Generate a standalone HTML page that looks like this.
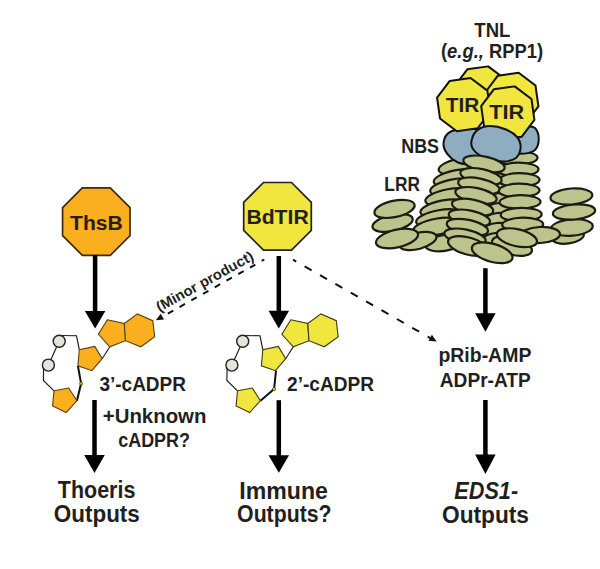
<!DOCTYPE html><html><head><meta charset="utf-8"><style>html,body{margin:0;padding:0;background:#fff;}svg{display:block;}text{font-family:"Liberation Sans",sans-serif;font-weight:bold;fill:#231f20;stroke:#fff;stroke-width:0.7px;paint-order:stroke;}</style></head><body>
<svg width="600" height="569" viewBox="0 0 600 569">
<text x="474.30" y="36.8" font-size="21" textLength="36.10" lengthAdjust="spacingAndGlyphs"  style="">TNL</text>
<text x="441" y="58.4" font-size="21" textLength="102" lengthAdjust="spacingAndGlyphs">(<tspan font-style="italic">e.g.,</tspan> RPP1)</text>
<polygon points="467.34,69.31 488.19,66.38 504.99,79.04 507.92,99.89 495.26,116.69 474.41,119.62 457.61,106.96 454.68,86.11" fill="#F0E63E" stroke="#111" stroke-width="2" stroke-linejoin="round"/>
<polygon points="497.84,75.71 518.69,72.78 535.49,85.44 538.42,106.29 525.76,123.09 504.91,126.02 488.11,113.36 485.18,92.51" fill="#F0E63E" stroke="#111" stroke-width="2" stroke-linejoin="round"/>
<ellipse cx="462.3" cy="166" rx="24" ry="8" transform="rotate(-10 462.3 166)" fill="#BCC48E" stroke="#1c1c10" stroke-width="2.2"/>
<ellipse cx="457.4" cy="178" rx="24" ry="8" transform="rotate(-10 457.4 178)" fill="#BCC48E" stroke="#1c1c10" stroke-width="2.2"/>
<ellipse cx="453.9" cy="187.2" rx="24" ry="8" transform="rotate(-10 453.9 187.2)" fill="#BCC48E" stroke="#1c1c10" stroke-width="2.2"/>
<ellipse cx="449" cy="197.1" rx="24" ry="8" transform="rotate(-10 449 197.1)" fill="#BCC48E" stroke="#1c1c10" stroke-width="2.2"/>
<ellipse cx="444.1" cy="208.3" rx="24" ry="8" transform="rotate(-10 444.1 208.3)" fill="#BCC48E" stroke="#1c1c10" stroke-width="2.2"/>
<ellipse cx="439.8" cy="218.1" rx="24" ry="8" transform="rotate(-10 439.8 218.1)" fill="#BCC48E" stroke="#1c1c10" stroke-width="2.2"/>
<ellipse cx="437" cy="226.6" rx="24" ry="8" transform="rotate(-10 437 226.6)" fill="#BCC48E" stroke="#1c1c10" stroke-width="2.2"/>
<ellipse cx="444" cy="243" rx="19" ry="8" transform="rotate(-8 444 243)" fill="#BCC48E" stroke="#1c1c10" stroke-width="2.2"/>
<ellipse cx="418" cy="241" rx="19" ry="8" transform="rotate(-15 418 241)" fill="#BCC48E" stroke="#1c1c10" stroke-width="2.2"/>
<ellipse cx="392.6" cy="223" rx="20.5" ry="8" transform="rotate(-12 392.6 223)" fill="#BCC48E" stroke="#1c1c10" stroke-width="2.2"/>
<ellipse cx="394.5" cy="208.9" rx="20.5" ry="8.2" transform="rotate(-12 394.5 208.9)" fill="#BCC48E" stroke="#1c1c10" stroke-width="2.2"/>
<ellipse cx="397" cy="238.5" rx="21.5" ry="8.8" transform="rotate(-12.8 397 238.5)" fill="#BCC48E" stroke="#1c1c10" stroke-width="2.2"/>
<ellipse cx="503" cy="170" rx="14" ry="7" transform="rotate(-5 503 170)" fill="#BCC48E" stroke="#1c1c10" stroke-width="2.2"/>
<ellipse cx="502" cy="180" rx="14" ry="7" transform="rotate(-5 502 180)" fill="#BCC48E" stroke="#1c1c10" stroke-width="2.2"/>
<ellipse cx="501" cy="190" rx="14" ry="7" transform="rotate(-5 501 190)" fill="#BCC48E" stroke="#1c1c10" stroke-width="2.2"/>
<ellipse cx="500" cy="200" rx="14" ry="7" transform="rotate(-5 500 200)" fill="#BCC48E" stroke="#1c1c10" stroke-width="2.2"/>
<ellipse cx="499" cy="210" rx="14" ry="7" transform="rotate(-5 499 210)" fill="#BCC48E" stroke="#1c1c10" stroke-width="2.2"/>
<ellipse cx="498" cy="220" rx="14" ry="7" transform="rotate(-5 498 220)" fill="#BCC48E" stroke="#1c1c10" stroke-width="2.2"/>
<ellipse cx="497" cy="230" rx="14" ry="7" transform="rotate(-5 497 230)" fill="#BCC48E" stroke="#1c1c10" stroke-width="2.2"/>
<ellipse cx="496" cy="240" rx="14" ry="7" transform="rotate(-5 496 240)" fill="#BCC48E" stroke="#1c1c10" stroke-width="2.2"/>
<ellipse cx="517" cy="158" rx="20.5" ry="6.8" transform="rotate(-1 517 158)" fill="#BCC48E" stroke="#1c1c10" stroke-width="2.2"/>
<ellipse cx="518" cy="169.5" rx="20.5" ry="6.8" transform="rotate(-1 518 169.5)" fill="#BCC48E" stroke="#1c1c10" stroke-width="2.2"/>
<ellipse cx="519" cy="180" rx="20.5" ry="6.8" transform="rotate(-1 519 180)" fill="#BCC48E" stroke="#1c1c10" stroke-width="2.2"/>
<ellipse cx="519" cy="190.5" rx="20.5" ry="6.8" transform="rotate(-1 519 190.5)" fill="#BCC48E" stroke="#1c1c10" stroke-width="2.2"/>
<ellipse cx="520" cy="202" rx="20.5" ry="6.8" transform="rotate(-1 520 202)" fill="#BCC48E" stroke="#1c1c10" stroke-width="2.2"/>
<ellipse cx="521.2" cy="214.6" rx="20.5" ry="6.8" transform="rotate(-1 521.2 214.6)" fill="#BCC48E" stroke="#1c1c10" stroke-width="2.2"/>
<ellipse cx="522.7" cy="224.5" rx="20.5" ry="6.8" transform="rotate(-1 522.7 224.5)" fill="#BCC48E" stroke="#1c1c10" stroke-width="2.2"/>
<path d="M452,131 C462,127 476,127 484,133 L482,163 C474,165 463,165 457,162 C449,158 443,150 443.5,143 C444,137 447,133 452,131 Z" fill="#8FADC0" stroke="#111" stroke-width="2"/>
<path d="M512,134 C518,127 530,124 535,128 C540,133 540,145 535,150 C530,154 520,155 512,152 Z" fill="#8FADC0" stroke="#111" stroke-width="2"/>
<polygon points="449.74,80.91 470.59,77.98 487.39,90.64 490.32,111.49 477.66,128.29 456.81,131.22 440.01,118.56 437.08,97.71" fill="#F0E63E" stroke="#111" stroke-width="2" stroke-linejoin="round"/>
<polygon points="493.84,89.31 514.69,86.38 531.49,99.04 534.42,119.89 521.76,136.69 500.91,139.62 484.11,126.96 481.18,106.11" fill="#F0E63E" stroke="#111" stroke-width="2" stroke-linejoin="round"/>
<text x="445.70" y="112" font-size="21" textLength="33.60" lengthAdjust="spacingAndGlyphs"  style="stroke:#F0E63E">TIR</text>
<text x="489.20" y="119" font-size="21" textLength="34.90" lengthAdjust="spacingAndGlyphs"  style="stroke:#F0E63E">TIR</text>
<path d="M472,139 C474,130 482,126 490,126 C500,126 512,131 517,137 C522,143 522,152 516,158 C510,162 500,162 492,160 C484,158 476,154 473,149 C471,146 471,142 472,139 Z" fill="#8FADC0" stroke="#111" stroke-width="2"/>
<text x="401.20" y="153.2" font-size="21" textLength="37.90" lengthAdjust="spacingAndGlyphs"  style="">NBS</text>
<text x="384.30" y="191.1" font-size="21" textLength="35.60" lengthAdjust="spacingAndGlyphs"  style="">LRR</text>
<ellipse cx="484" cy="164" rx="21" ry="7.5" transform="rotate(11.5 484 164)" fill="#BCC48E" stroke="#1c1c10" stroke-width="2.2"/>
<ellipse cx="481" cy="176.5" rx="21" ry="7.5" transform="rotate(11.5 481 176.5)" fill="#BCC48E" stroke="#1c1c10" stroke-width="2.2"/>
<ellipse cx="478.8" cy="185.9" rx="21" ry="7.5" transform="rotate(11.5 478.8 185.9)" fill="#BCC48E" stroke="#1c1c10" stroke-width="2.2"/>
<ellipse cx="476" cy="195.5" rx="21" ry="7.5" transform="rotate(11.5 476 195.5)" fill="#BCC48E" stroke="#1c1c10" stroke-width="2.2"/>
<ellipse cx="472.6" cy="207.2" rx="21" ry="7.5" transform="rotate(11.5 472.6 207.2)" fill="#BCC48E" stroke="#1c1c10" stroke-width="2.2"/>
<ellipse cx="469.4" cy="218" rx="21" ry="7.5" transform="rotate(11.5 469.4 218)" fill="#BCC48E" stroke="#1c1c10" stroke-width="2.2"/>
<ellipse cx="467.4" cy="227.3" rx="21" ry="7.5" transform="rotate(11.5 467.4 227.3)" fill="#BCC48E" stroke="#1c1c10" stroke-width="2.2"/>
<ellipse cx="465" cy="237" rx="21" ry="7.5" transform="rotate(11.5 465 237)" fill="#BCC48E" stroke="#1c1c10" stroke-width="2.2"/>
<ellipse cx="468" cy="246" rx="20.5" ry="8.5" transform="rotate(15 468 246)" fill="#BCC48E" stroke="#1c1c10" stroke-width="2.2"/>
<ellipse cx="512" cy="246" rx="20.5" ry="8.5" transform="rotate(15 512 246)" fill="#BCC48E" stroke="#1c1c10" stroke-width="2.2"/>
<ellipse cx="568" cy="236.5" rx="16" ry="7" transform="rotate(-8 568 236.5)" fill="#BCC48E" stroke="#1c1c10" stroke-width="2.2"/>
<ellipse cx="571.8" cy="227.5" rx="21" ry="8.2" transform="rotate(-4.5 571.8 227.5)" fill="#BCC48E" stroke="#1c1c10" stroke-width="2.2"/>
<ellipse cx="574" cy="212" rx="21.2" ry="7.5" transform="rotate(-5 574 212)" fill="#BCC48E" stroke="#1c1c10" stroke-width="2.2"/>
<ellipse cx="571.4" cy="196.5" rx="21" ry="8" transform="rotate(-4.5 571.4 196.5)" fill="#BCC48E" stroke="#1c1c10" stroke-width="2.2"/>
<ellipse cx="540" cy="235" rx="20" ry="8" transform="rotate(-3 540 235)" fill="#BCC48E" stroke="#1c1c10" stroke-width="2.2"/>
<ellipse cx="516.9" cy="237.7" rx="20.5" ry="8.5" transform="rotate(12.7 516.9 237.7)" fill="#BCC48E" stroke="#1c1c10" stroke-width="2.2"/>
<ellipse cx="492.2" cy="252.8" rx="21" ry="9" transform="rotate(15.8 492.2 252.8)" fill="#BCC48E" stroke="#1c1c10" stroke-width="2.2"/>
<rect x="483.15" y="268.2" width="4.5" height="46.0" fill="#000"/>
<polygon points="475.15,313.2 495.65,313.2 485.40,331.8" fill="#000"/>
<text x="438.40" y="362" font-size="21" textLength="93.00" lengthAdjust="spacingAndGlyphs"  style="">pRib-AMP</text>
<text x="439.80" y="387" font-size="21" textLength="91.00" lengthAdjust="spacingAndGlyphs"  style="">ADPr-ATP</text>
<rect x="483.15" y="400" width="4.5" height="55.60000000000002" fill="#000"/>
<polygon points="475.15,454.6 495.65,454.6 485.40,473.9" fill="#000"/>
<text x="454.3" y="499" font-size="23.3" font-style="italic" textLength="63.8" lengthAdjust="spacingAndGlyphs">EDS1-</text>
<text x="442.00" y="523" font-size="23.3" textLength="87.00" lengthAdjust="spacingAndGlyphs"  style="">Outputs</text>
<polygon points="82.33,187.88 110.27,187.88 130.02,207.63 130.02,235.57 110.27,255.32 82.33,255.32 62.58,235.57 62.58,207.63" fill="#FAAF1E" stroke="#3d2b0f" stroke-width="1.7"/>
<text x="70.05" y="229.8" font-size="21" textLength="52.60" lengthAdjust="spacingAndGlyphs"  style="stroke:#FAAF1E;fill:#2a1c08">ThsB</text>
<rect x="92.85" y="255" width="4.5" height="57" fill="#000"/>
<polygon points="84.85,311 105.35,311 95.10,328.4" fill="#000"/>
<polyline points="109.8,346.8 102.2,358.7" fill="none" stroke="#1a1a1a" stroke-width="1.15"/>
<polyline points="79.3,349.6 76.5,335.8 59.2,335.5" fill="none" stroke="#1a1a1a" stroke-width="1.15"/>
<polyline points="59.2,341.2 48.4,365.1" fill="none" stroke="#1a1a1a" stroke-width="1.15"/>
<polyline points="43.6,368 43.4,380.5 54,390.8" fill="none" stroke="#1a1a1a" stroke-width="1.15"/>
<polyline points="77.9,365.8 81.1,383.6 76.9,400.7" fill="none" stroke="#111" stroke-width="2"/>
<polygon points="107.3,319.8 124.3,323.5 125.5,340.7 109.8,346.8 98.4,334.3" fill="#FAAF1E" stroke="#5a3f10" stroke-width="1.1" stroke-linejoin="miter"/>
<polygon points="124.3,323.5 137.4,313.9 152.8,320.7 154.7,336.7 140.8,346.8 125.5,340.7" fill="#FAAF1E" stroke="#5a3f10" stroke-width="1.1" stroke-linejoin="miter"/>
<polygon points="94.8,346.4 102.2,358.7 91.9,370.7 77.9,365.8 79.3,349.6" fill="#FAAF1E" stroke="#5a3f10" stroke-width="1.1" stroke-linejoin="miter"/>
<polygon points="54,390.8 68.7,388 76.9,400.7 66.2,412.5 52.6,405.9" fill="#FAAF1E" stroke="#5a3f10" stroke-width="1.1" stroke-linejoin="miter"/>
<circle cx="81.1" cy="383.6" r="1.5" fill="#FAAF1E" stroke="#5a3f10" stroke-width="0.8"/>
<circle cx="59.20" cy="341.2" r="6" fill="#E3E5DA" stroke="#222" stroke-width="1.4"/>
<circle cx="48.40" cy="365.1" r="6" fill="#E3E5DA" stroke="#222" stroke-width="1.4"/>
<text x="99.40" y="390.6" font-size="21" textLength="86.60" lengthAdjust="spacingAndGlyphs"  style="">3’-cADPR</text>
<text x="102.80" y="423" font-size="21" textLength="103.60" lengthAdjust="spacingAndGlyphs"  style="">+Unknown</text>
<text x="118.20" y="447.4" font-size="21" textLength="71.80" lengthAdjust="spacingAndGlyphs"  style="">cADPR?</text>
<rect x="92.25" y="400" width="4.5" height="56" fill="#000"/>
<polygon points="84.25,455 104.75,455 94.50,473" fill="#000"/>
<text x="57.80" y="498.4" font-size="23.3" textLength="77.60" lengthAdjust="spacingAndGlyphs"  style="">Thoeris</text>
<text x="53.80" y="522" font-size="23.3" textLength="86.00" lengthAdjust="spacingAndGlyphs"  style="">Outputs</text>
<polygon points="263.49,182.49 291.51,182.49 311.31,202.29 311.31,230.31 291.51,250.11 263.49,250.11 243.69,230.31 243.69,202.29" fill="#F0E63E" stroke="#222" stroke-width="1.7"/>
<text x="246.40" y="224.1" font-size="21" textLength="62.30" lengthAdjust="spacingAndGlyphs"  style="stroke:#F0E63E">BdTIR</text>
<rect x="276.55" y="256" width="4.5" height="55.69999999999999" fill="#000"/>
<polygon points="268.55,310.7 289.05,310.7 278.80,328.4" fill="#000"/>
<polyline points="293.3,346.8 285.7,358.7" fill="none" stroke="#1a1a1a" stroke-width="1.15"/>
<polyline points="262.8,349.6 260.0,335.8 242.7,335.5" fill="none" stroke="#1a1a1a" stroke-width="1.15"/>
<polyline points="242.7,341.2 231.9,365.1" fill="none" stroke="#1a1a1a" stroke-width="1.15"/>
<polyline points="227.1,368 226.9,380.5 237.5,390.8" fill="none" stroke="#1a1a1a" stroke-width="1.15"/>
<polyline points="276,370.7 274.1,389 260.5,400.7" fill="none" stroke="#111" stroke-width="2"/>
<polygon points="290.8,319.8 307.8,323.5 309.0,340.7 293.3,346.8 281.9,334.3" fill="#F0E63E" stroke="#3b3a10" stroke-width="1.1" stroke-linejoin="miter"/>
<polygon points="307.8,323.5 320.9,313.9 336.3,320.7 338.2,336.7 324.3,346.8 309.0,340.7" fill="#F0E63E" stroke="#3b3a10" stroke-width="1.1" stroke-linejoin="miter"/>
<polygon points="278.3,346.4 285.7,358.7 275.4,370.7 261.4,365.8 262.8,349.6" fill="#F0E63E" stroke="#3b3a10" stroke-width="1.1" stroke-linejoin="miter"/>
<polygon points="237.5,390.8 252.2,388 260.4,400.7 249.7,412.5 236.1,405.9" fill="#F0E63E" stroke="#3b3a10" stroke-width="1.1" stroke-linejoin="miter"/>
<circle cx="274.1" cy="389" r="1.5" fill="#F0E63E" stroke="#3b3a10" stroke-width="0.8"/>
<circle cx="242.70" cy="341.2" r="6" fill="#E3E5DA" stroke="#222" stroke-width="1.4"/>
<circle cx="231.90" cy="365.1" r="6" fill="#E3E5DA" stroke="#222" stroke-width="1.4"/>
<text x="287.10" y="390.8" font-size="21" textLength="86.80" lengthAdjust="spacingAndGlyphs"  style="">2’-cADPR</text>
<rect x="276.55" y="400.2" width="4.5" height="56.10000000000002" fill="#000"/>
<polygon points="268.55,455.3 289.05,455.3 278.80,472.8" fill="#000"/>
<text x="239.30" y="499" font-size="23.3" textLength="88.60" lengthAdjust="spacingAndGlyphs"  style="">Immune</text>
<text x="237.10" y="522" font-size="23.3" textLength="94.50" lengthAdjust="spacingAndGlyphs"  style="">Outputs?</text>
<line x1="264.3" y1="259.5" x2="160.5" y2="317.7" stroke="#111" stroke-width="2" stroke-dasharray="6.2 7.25" stroke-dashoffset="3.2"/>
<line x1="293" y1="259.7" x2="430.5" y2="338.2" stroke="#111" stroke-width="2" stroke-dasharray="8 9.7" stroke-dashoffset="4.3"/>
<polygon points="155.8,320.3 160.68,313.66 164.00,319.59" fill="#111"/>
<polygon points="436.7,341.5 428.50,340.72 431.88,334.82" fill="#111"/>
<text x="0" y="0" font-size="14.5" textLength="109" lengthAdjust="spacingAndGlyphs" transform="translate(159.4,312.2) rotate(-29)">(Minor product)</text>
</svg></body></html>
